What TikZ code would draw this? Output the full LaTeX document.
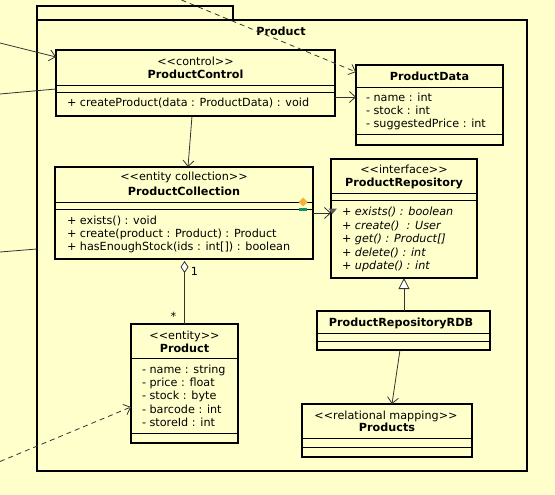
\documentclass[tikz,border=0pt]{standalone}
\usepackage{fontspec}
\setmainfont{DejaVu Sans}
\usetikzlibrary{arrows.meta}
\definecolor{bgcol}{HTML}{FFFFCC}
\definecolor{conncol}{HTML}{333333}
\definecolor{orncol}{HTML}{F2B33D}
\definecolor{grncol}{HTML}{13906A}
\newcommand\umlstereo[1]{<\kern0pt<#1>\kern0pt>}
\tikzset{
  cls/.style={draw=black, line width=2pt, fill=bgcol, inner sep=0pt, outer sep=0pt, anchor=north west},
  sepline/.style={draw=black, line width=0.9pt},
  txt/.style={inner sep=0pt, outer sep=0pt, font=\fontsize{11.2}{13}\selectfont, anchor=mid},
  lt/.style={txt, anchor=mid west},
  bt/.style={txt, font=\fontsize{11.2}{13}\selectfont\bfseries},
  itx/.style={lt, font=\fontsize{11.2}{13}\selectfont\itshape},
  cline/.style={draw=conncol, line width=0.8pt},
  arr/.style={cline, -{Straight Barb[length=6pt,width=11pt]}},
  dsh/.style={arr, dash pattern=on 5pt off 4pt},
}
\begin{document}
\begin{tikzpicture}[x=1pt,y=-1pt]
\fill[bgcol] (0,0) rectangle (555,495);
\useasboundingbox (0,0) rectangle (555,495);

% package
\node[cls, minimum width=196pt, minimum height=14pt] (tab) at (37,6) {};
\node[cls, minimum width=490pt, minimum height=451pt] (pkg) at (37,20) {};
\node[bt] (pkgl) at (281,33) {Product};

% ProductControl
\node[cls, minimum width=279pt, minimum height=66pt] (pc) at (56,50) {};
\node[txt] (pcs) at (195.5,63) {\umlstereo{control}};
\node[bt] (pcn) at (195.5,76) {ProductControl};
\draw[sepline] (pc.west |- 0,85) -- (pc.east |- 0,85);
\draw[sepline] (pc.west |- 0,92) -- (pc.east |- 0,92);
\node[lt] (pcm1) at (67,104) {+ createProduct(data : ProductData) : void};

% ProductData
\node[cls, minimum width=147pt, minimum height=80pt] (pd) at (356,65) {};
\node[bt] (pdn) at (429.5,78) {ProductData};
\draw[sepline] (pd.west |- 0,87) -- (pd.east |- 0,87);
\node[lt] (pda1) at (366,99) {- name : int};
\node[lt] (pda2) at (366,111.5) {- stock : int};
\node[lt] (pda3) at (366,124.5) {- suggestedPrice : int};
\draw[sepline] (pd.west |- 0,134) -- (pd.east |- 0,134);

% ProductCollection
\node[cls, minimum width=258pt, minimum height=92pt] (pcol) at (55,167) {};
\node[txt] (pcols) at (184,178) {\umlstereo{entity collection}};
\node[bt] (pcoln) at (184,193) {ProductCollection};
\draw[sepline] (pcol.west |- 0,202) -- (pcol.east |- 0,202);
\draw[sepline] (pcol.west |- 0,209) -- (pcol.east |- 0,209);
\node[lt] (pcolm1) at (67,222) {+ exists() : void};
\node[lt] (pcolm2) at (67,234.5) {+ create(product : Product) : Product};
\node[lt] (pcolm3) at (67,247.5) {+ hasEnoughStock(ids : int[]) : boolean};
\fill[orncol] (303,197.5) -- (307.5,202) -- (303,206.5) -- (298.5,202) -- cycle;
\fill[grncol] (299,207.5) rectangle (307,211);

% ProductRepository
\node[cls, minimum width=146pt, minimum height=119pt] (prep) at (331,159) {};
\node[txt] (preps) at (404,171) {\umlstereo{interface}};
\node[bt] (prepn) at (404,184) {ProductRepository};
\draw[sepline] (prep.west |- 0,193) -- (prep.east |- 0,193);
\draw[sepline] (prep.west |- 0,200) -- (prep.east |- 0,200);
\node[itx] (prepm1) at (342,213) {+ exists() : boolean};
\node[itx] (prepm2) at (342,226.5) {+ create()~ : User};
\node[itx] (prepm3) at (342,240) {+ get() : Product[]};
\node[itx] (prepm4) at (342,253.5) {+ delete() : int};
\node[itx] (prepm5) at (342,267) {+ update() : int};

% ProductRepositoryRDB
\node[cls, minimum width=173pt, minimum height=39pt] (rdb) at (317,311) {};
\node[bt] (rdbn) at (401,324) {ProductRepositoryRDB};
\draw[sepline] (rdb.west |- 0,333) -- (rdb.east |- 0,333);
\draw[sepline] (rdb.west |- 0,341) -- (rdb.east |- 0,341);

% Products
\node[cls, minimum width=170pt, minimum height=53pt] (prods) at (302,404) {};
\node[txt] (prodss) at (386,417) {\umlstereo{relational mapping}};
\node[bt] (prodsn) at (387,429) {Products};
\draw[sepline] (prods.west |- 0,438) -- (prods.east |- 0,438);
\draw[sepline] (prods.west |- 0,447) -- (prods.east |- 0,447);

% Product
\node[cls, minimum width=107pt, minimum height=119pt] (prod) at (131,324) {};
\node[txt] (prodst) at (184.5,337) {\umlstereo{entity}};
\node[bt] (prodn) at (184.5,350) {Product};
\draw[sepline] (prod.west |- 0,358) -- (prod.east |- 0,358);
\node[lt] (proda1) at (142,370.5) {- name : string};
\node[lt] (proda2) at (142,383.5) {- price : float};
\node[lt] (proda3) at (142,397) {- stock : byte};
\node[lt] (proda4) at (142,410.5) {- barcode : int};
\node[lt] (proda5) at (142,423.5) {- storeId : int};
\draw[sepline] (prod.west |- 0,433) -- (prod.east |- 0,433);

% free ends
\coordinate (in1) at (0,43);
\coordinate (in2) at (0,94);
\coordinate (in3) at (0,252);
\coordinate (in4) at (0,461.5);
\coordinate (top1) at (181.5,0);

% connectors
\draw[arr] (in1) -- ([yshift=-7pt]pc.north west);
\draw[cline] (in2) -- ([yshift=-39pt]pc.north west);
\draw[cline] (in3) -- ([yshift=-229pt]pkg.north west);
\draw[dsh] (in4) -- ([yshift=-83pt]prod.north west);
\draw[dsh] (top1) -- ([yshift=-7pt]pd.north west);
\draw[arr] ([yshift=-47pt]pc.north east) -- ([yshift=-32pt]pd.north west);
\draw[arr] ([xshift=136pt]pc.south west) -- ([xshift=133pt]pcol.north west);
\draw[arr] ([yshift=-46pt]pcol.north east) -- ([yshift=-54pt]prep.north west);
\fill[conncol!80] (328.5,208.5) -- (337,208.5) -- (332.5,214) -- cycle;
\draw[cline, -{Triangle[fill=white,length=11pt,width=11pt]}] ([xshift=87pt]rdb.north west) -- ([xshift=73pt]prep.south west);
\draw[arr] ([xshift=83pt]rdb.south west) -- ([xshift=90pt]prods.north west);
\draw[cline, {Diamond[fill=white,length=12pt,width=8pt]}-] ([xshift=129.5pt,yshift=-2pt]pcol.south west) -- ([xshift=53.5pt]prod.north west);
\node[txt] (m1) at (194.5,273) {1};
\node[txt] (m2) at (173.5,318) {*};
\end{tikzpicture}
\end{document}
